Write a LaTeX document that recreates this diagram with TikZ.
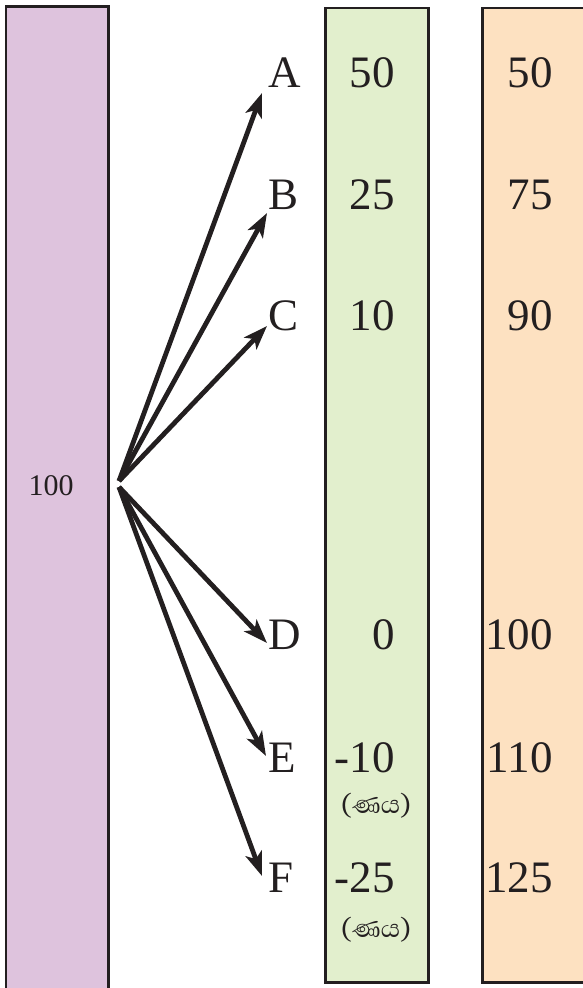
\documentclass[tikz,border=0pt]{standalone}
\usepackage{fontspec}
\setmainfont{Liberation Serif}
\newfontfamily\sinhalafont[Script=Sinhala]{Abhaya Libre}
\usetikzlibrary{arrows.meta}
\definecolor{pinkc}{HTML}{DEC3DD}
\definecolor{greenc}{HTML}{E2EFCD}
\definecolor{orangec}{HTML}{FDE1C1}
\definecolor{edgec}{HTML}{231F20}
\begin{document}
\begin{tikzpicture}[x=1pt,y=-1pt,
  col/.style={draw=edgec,line width=2.5pt},
  lbl/.style={inner sep=0pt,font=\fontsize{45}{45}\selectfont,text=edgec},
  debt/.style={inner sep=0pt,font=\sinhalafont\fontsize{32}{32}\selectfont,text=edgec},
  arr/.style={draw=edgec,line width=4.8pt,-{Stealth[length=24pt,width=17pt,inset=6pt]}}]
\useasboundingbox (0,0) rectangle (582,988);
% columns
\path[col,fill=pinkc] (6,6.5) rectangle (108.5,995);
\path[col,fill=greenc] (325.5,8) rectangle (428.5,982.5);
\path[col,fill=orangec] (482.5,8) rectangle (600,982.5);
\node[inner sep=0pt,anchor=base,font=\fontsize{30}{30}\selectfont,text=edgec] (total) at (51,495) {100};
% letters
\node[lbl,anchor=base west] (A) at (268,87) {A};
\node[lbl,anchor=base west] (B) at (268,209) {B};
\node[lbl,anchor=base west] (C) at (268,330) {C};
\node[lbl,anchor=base west] (D) at (268,649) {D};
\node[lbl,anchor=base west] (E) at (268,772) {E};
\node[lbl,anchor=base west] (F) at (268,892) {F};
% green column
\node[lbl,anchor=base east] (gA) at (395,87) {50};
\node[lbl,anchor=base east] (gB) at (395,209) {25};
\node[lbl,anchor=base east] (gC) at (395,330) {10};
\node[lbl,anchor=base east] (gD) at (395,649) {0};
\node[lbl,anchor=base east] (gE) at (395,772) {-10};
\node[lbl,anchor=base east] (gF) at (395,892) {-25};
\node[debt] (dE) at (376,806) {(ණය)};
\node[debt] (dF) at (376,930) {(ණය)};
% orange column
\node[lbl,anchor=base east] (oA) at (553,87) {50};
\node[lbl,anchor=base east] (oB) at (553,209) {75};
\node[lbl,anchor=base east] (oC) at (553,330) {90};
\node[lbl,anchor=base east] (oD) at (553,649) {100};
\node[lbl,anchor=base east] (oE) at (553,772) {110};
\node[lbl,anchor=base east] (oF) at (553,892) {125};
% arrows
\coordinate (hubU) at (119,481);
\coordinate (hubL) at (119,487);
\coordinate (tA) at (262,93);
\coordinate (tB) at (267,213);
\coordinate (tC) at (267,326);
\coordinate (tD) at (267,643);
\coordinate (tE) at (266,756);
\coordinate (tF) at (262,876);
\draw[arr] (hubU) -- (tA);
\draw[arr] (hubU) -- (tB);
\draw[arr] (hubU) -- (tC);
\draw[arr] (hubL) -- (tD);
\draw[arr] (hubL) -- (tE);
\draw[arr] (hubL) -- (tF);
\end{tikzpicture}
\end{document}
